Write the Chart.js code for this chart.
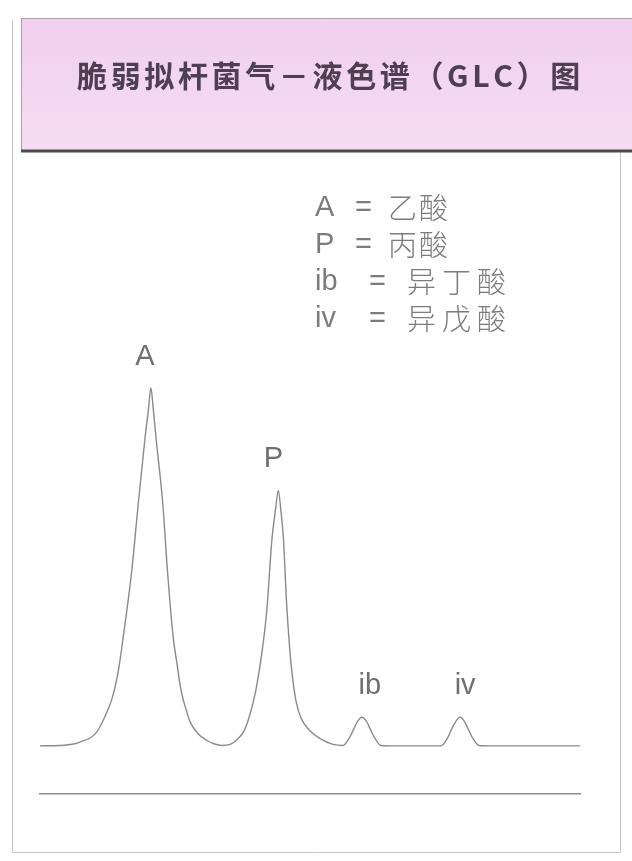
<!DOCTYPE html>
<html>
<head>
<meta charset="utf-8">
<title>脆弱拟杆菌气－液色谱(GLC)图</title>
<script src="https://cdn.jsdelivr.net/npm/chart.js@4/dist/chart.umd.min.js"></script>
<style>
  html, body { margin: 0; padding: 0; background: #fff; }
  #glc { display: block; }
</style>
</head>
<body>
<canvas id="glc" width="632" height="861"></canvas>
<script>
// retention time (min) and detector signal
const retentionTimes = [0, 0.56, 0.97, 1.17, 1.39, 1.58, 1.75, 1.92, 2.00, 2.08, 2.19, 2.31, 2.55, 2.73, 2.92, 3.01, 3.08,
  3.15, 3.22, 3.41, 3.54, 3.70, 3.81, 3.89, 3.97, 4.06, 4.17, 4.39, 4.64, 4.83, 5.06,
  5.28, 5.47, 5.67, 5.83, 5.97, 6.08, 6.19, 6.30, 6.44, 6.54, 6.62,
  6.69, 6.76, 6.85, 6.93, 7.00, 7.11, 7.25, 7.50, 7.78, 8.14, 8.42,
  8.58, 8.72, 8.83, 8.94, 9.06, 9.17, 9.31, 9.47, 9.72,
  11.14, 11.31, 11.44, 11.56, 11.67, 11.78, 11.89, 12.03, 12.19, 12.50, 15.00];
const detectorSignal = [0, 0.1, 0.6, 1.3, 2.2, 3.9, 7.0, 10.9, 13.2, 16.2, 21.8, 30.3, 49.0, 67.8, 86.3, 93.8, 100,
  93.8, 86.3, 67.8, 49.0, 30.3, 22.7, 17.1, 13.2, 10.1, 6.7, 3.4, 1.5, 0.6, 0.1,
  0.4, 1.7, 4.2, 8.7, 14.3, 20.4, 28.0, 37.8, 57.4, 65.8, 71.4,
  65.8, 58.3, 39.8, 28.0, 20.4, 12.6, 7.8, 4.2, 2.0, 0.4, 0.1,
  2.0, 4.8, 7.0, 8.0, 7.0, 4.8, 2.0, 0.1, 0,
  0, 2.0, 4.8, 7.0, 8.0, 7.0, 4.8, 2.0, 0.1, 0, 0];

// peaks and what they are
const peakNames = ['A', 'P', 'ib', 'iv'];
const peakTimes = [3.08, 6.62, 8.94, 11.67];
const peakHeights = [100, 71.4, 8.0, 8.0];
const acidNames = ['乙酸', '丙酸', '异丁酸', '异戊酸'];

const titleText = '脆弱拟杆菌气－液色谱（GLC）图';

const LATIN = '"Liberation Sans Narrow", "Liberation Sans", "Noto Sans", sans-serif';
const CJK = '"Noto Sans CJK SC", "Noto Sans", sans-serif';

// header, outer frame, key and peak labels
const decorations = {
  id: 'decorations',
  beforeDraw(chart) {
    const ctx = chart.ctx;
    ctx.save();
    ctx.fillStyle = '#ffffff';
    ctx.fillRect(0, 0, chart.width, chart.height);

    // outer frame
    ctx.strokeStyle = '#c4c4c4';
    ctx.lineWidth = 1;
    ctx.beginPath();
    ctx.moveTo(12.5, 20);
    ctx.lineTo(12.5, 852.5);
    ctx.lineTo(620.5, 852.5);
    ctx.lineTo(620.5, 152);
    ctx.stroke();

    // pink header band
    const grad = ctx.createLinearGradient(0, 18, 0, 150);
    grad.addColorStop(0, '#f1d0ee');
    grad.addColorStop(1, '#f5dcf2');
    ctx.fillStyle = grad;
    ctx.fillRect(21, 18, chart.width - 21, 133);
    ctx.strokeStyle = '#a9a2aa';
    ctx.beginPath();
    ctx.moveTo(21, 18.5);
    ctx.lineTo(chart.width, 18.5);
    ctx.moveTo(21.5, 18);
    ctx.lineTo(21.5, 150);
    ctx.stroke();
    ctx.strokeStyle = '#4f4a50';
    ctx.lineWidth = 3;
    ctx.beginPath();
    ctx.moveTo(21, 151);
    ctx.lineTo(chart.width, 151);
    ctx.stroke();

    // title, spread to the band width
    ctx.font = 'bold 30px ' + CJK;
    ctx.fillStyle = '#4e4052';
    ctx.textBaseline = 'middle';
    ctx.textAlign = 'left';
    const chars = Array.from(titleText);
    const natural = ctx.measureText(titleText).width;
    const gap = Math.max(0, (502 - natural) / (chars.length - 1));
    let tx = 77;
    chars.forEach(c => {
      ctx.fillText(c, tx, 76);
      tx += ctx.measureText(c).width + gap;
    });

    // key
    ctx.fillStyle = '#7c7c7c';
    peakNames.forEach((name, i) => {
      const y = 208 + i * 37;
      const wide = name.length > 1;
      ctx.font = '300 29px ' + LATIN;
      ctx.fillText(name, 315, y);
      ctx.fillText('=', wide ? 369 : 355, y);
      ctx.font = '300 29px ' + CJK;
      let cx = wide ? 407 : 388;
      Array.from(acidNames[i]).forEach(c => {
        ctx.fillText(c, cx, y);
        cx += wide ? 35 : 31;
      });
    });
    ctx.restore();
  },
  afterDatasetsDraw(chart) {
    const ctx = chart.ctx;
    const xs = chart.scales.x, ys = chart.scales.y;
    const shift = [-6, -5, 8, 5];
    ctx.save();
    ctx.font = '29px ' + LATIN;
    ctx.fillStyle = '#6f6f6f';
    ctx.textAlign = 'center';
    ctx.textBaseline = 'middle';
    peakNames.forEach((name, i) => {
      const px = xs.getPixelForValue(peakTimes[i]) + shift[i];
      const py = ys.getPixelForValue(peakHeights[i]) - 31;
      ctx.fillText(name, px, py);
    });
    ctx.restore();
  }
};

const ctx = document.getElementById('glc').getContext('2d');
const glcChart = new Chart(ctx, {
  type: 'line',
  data: {
    datasets: [{
      data: retentionTimes.map((t, i) => ({ x: t, y: detectorSignal[i] })),
      borderColor: '#8a8a8a',
      borderWidth: 1.4,
      pointRadius: 0,
      cubicInterpolationMode: 'monotone',
      fill: false,
      clip: false
    }]
  },
  options: {
    responsive: false,
    animation: false,
    devicePixelRatio: 1,
    events: [],
    layout: { padding: { left: 40, right: 52, top: 388, bottom: 67 } },
    plugins: { legend: { display: false }, tooltip: { enabled: false } },
    scales: {
      x: {
        type: 'linear',
        min: 0,
        max: 15,
        grid: { display: false, drawTicks: false },
        ticks: { display: false },
        border: { display: true, color: '#8e8e8e', width: 1.5 }
      },
      y: {
        display: false,
        min: -13.45,
        max: 100
      }
    }
  },
  plugins: [decorations]
});
</script>
</body>
</html>
